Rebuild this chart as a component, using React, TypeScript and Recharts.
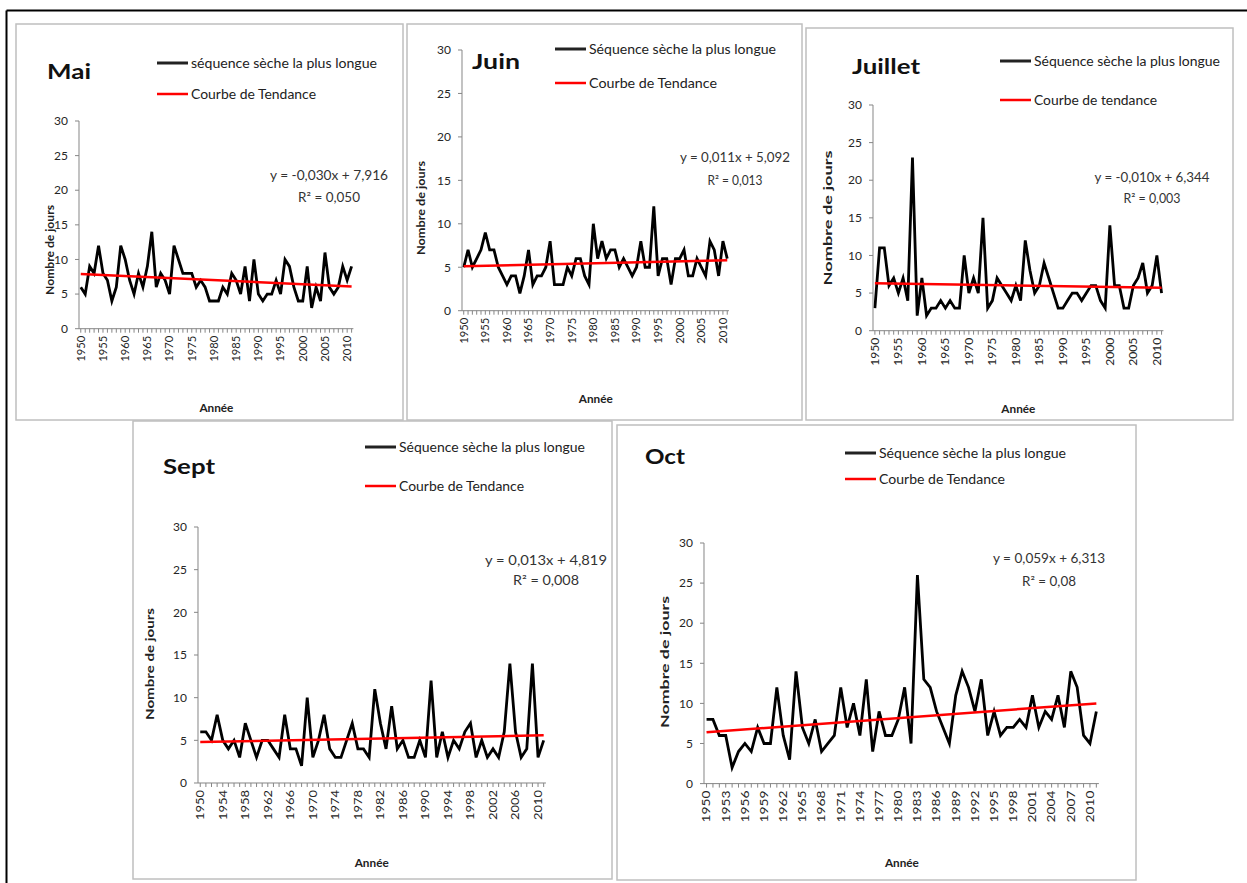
import React from 'react';
import { LineChart, Line, XAxis, YAxis } from 'recharts';

// Longest dry sequence per month (days), 1950-2011
const years = Array.from({ length: 62 }, (_, i) => 1950 + i);

const maiValues = [6, 5, 9, 8, 12, 8, 7, 4, 6, 12, 10, 7, 5, 8, 6, 9, 14, 6, 8, 7, 5, 12, 10, 8, 8, 8, 6, 7, 6, 4, 4, 4, 6, 5, 8, 7, 5, 9, 4, 10, 5, 4, 5, 5, 7, 5, 10, 9, 6, 4, 4, 9, 3, 6, 4, 11, 6, 5, 6, 9, 7, 9];
const juinValues = [5, 7, 5, 6, 7, 9, 7, 7, 5, 4, 3, 4, 4, 2, 4, 7, 3, 4, 4, 5, 8, 3, 3, 3, 5, 4, 6, 6, 4, 3, 10, 6, 8, 6, 7, 7, 5, 6, 5, 4, 5, 8, 5, 5, 12, 4, 6, 6, 3, 6, 6, 7, 4, 4, 6, 5, 4, 8, 7, 4, 8, 6];
const juilletValues = [3, 11, 11, 6, 7, 5, 7, 4, 23, 2, 7, 2, 3, 3, 4, 3, 4, 3, 3, 10, 5, 7, 5, 15, 3, 4, 7, 6, 5, 4, 6, 4, 12, 8, 5, 6, 9, 7, 5, 3, 3, 4, 5, 5, 4, 5, 6, 6, 4, 3, 14, 6, 6, 3, 3, 6, 7, 9, 5, 6, 10, 5];
const septValues = [6, 6, 5, 8, 5, 4, 5, 3, 7, 5, 3, 5, 5, 4, 3, 8, 4, 4, 2, 10, 3, 5, 8, 4, 3, 3, 5, 7, 4, 4, 3, 11, 7, 4, 9, 4, 5, 3, 3, 5, 3, 12, 3, 6, 3, 5, 4, 6, 7, 3, 5, 3, 4, 3, 6, 14, 6, 3, 4, 14, 3, 5];
const octValues = [8, 8, 6, 6, 2, 4, 5, 4, 7, 5, 5, 12, 6, 3, 14, 7, 5, 8, 4, 5, 6, 12, 7, 10, 6, 13, 4, 9, 6, 6, 8, 12, 5, 26, 13, 12, 9, 7, 5, 11, 14, 12, 9, 13, 6, 9, 6, 7, 7, 8, 7, 11, 7, 9, 8, 11, 7, 14, 12, 6, 5, 9];

// trend line ends (1950, 2011) read from the linear fits
const maiTrend = [7.9, 6.1];
const juinTrend = [5.1, 5.8];
const juilletTrend = [6.3, 5.7];
const septTrend = [4.8, 5.6];
const octTrend = [6.4, 10.0];

const ticks5 = [1950, 1955, 1960, 1965, 1970, 1975, 1980, 1985, 1990, 1995, 2000, 2005, 2010];
const ticks4 = [1950, 1954, 1958, 1962, 1966, 1970, 1974, 1978, 1982, 1986, 1990, 1994, 1998, 2002, 2006, 2010];
const ticks3 = [1950, 1953, 1956, 1959, 1962, 1965, 1968, 1971, 1974, 1977, 1980, 1983, 1986, 1989, 1992, 1995, 1998, 2001, 2004, 2007, 2010];
const yTicks = [0, 5, 10, 15, 20, 25, 30];

const FONT = 'Lato, "Liberation Sans", sans-serif';
const AXIS = '#868686';

const buildRows = (values: number[], trend: number[]) =>
  years.map((year, i) => ({
    year,
    value: values[i],
    trend: i === 0 ? trend[0] : i === years.length - 1 ? trend[1] : null,
  }));

const panels = [
  {
    key: 'mai', values: maiValues, trend: maiTrend, labels: ticks5,
    x0: 81, step: 4.44, y0: 328.7, y30: 121, tickLen: 26,
    box: [16, 24, 403, 420],
    title: { text: 'Mai', x: 47, y: 70, w: 44 },
    legend: { x: 157, y1: 63, y2: 94, w1: 186, w2: 125, t1: 'séquence sèche la plus longue', t2: 'Courbe de Tendance' },
    eq: { cx: 329, y1: 175, y2: 197, w1: 118, w2: 62, t1: 'y = -0,030x + 7,916', t2: 'R² = 0,050' },
    yTitle: { x: 49, cy: 250, len: 90 }, xTitle: { y: 407 },
  },
  {
    key: 'juin', values: juinValues, trend: juinTrend, labels: ticks5,
    x0: 464, step: 4.32, y0: 310.7, y30: 50, tickLen: 26,
    box: [407, 24, 802, 420],
    title: { text: 'Juin', x: 472, y: 60, w: 48 },
    legend: { x: 555, y1: 49, y2: 83, w1: 187, w2: 128, t1: 'Séquence sèche la plus longue', t2: 'Courbe de Tendance' },
    eq: { cx: 735, y1: 157, y2: 180, w1: 110, w2: 55, t1: 'y = 0,011x + 5,092', t2: 'R² = 0,013' },
    yTitle: { x: 420, cy: 208, len: 94 }, xTitle: { y: 398 },
  },
  {
    key: 'juillet', values: juilletValues, trend: juilletTrend, labels: ticks5,
    x0: 875, step: 4.7, y0: 330.7, y30: 105, tickLen: 28,
    box: [806, 28, 1233, 420],
    title: { text: 'Juillet', x: 852, y: 65, w: 68 },
    legend: { x: 1000, y1: 61, y2: 100, w1: 186, w2: 123, t1: 'Séquence sèche la plus longue', t2: 'Courbe de tendance' },
    eq: { cx: 1152, y1: 177, y2: 198, w1: 115, w2: 57, t1: 'y = -0,010x + 6,344', t2: 'R² = 0,003' },
    yTitle: { x: 827, cy: 218, len: 135 }, xTitle: { y: 408 },
  },
  {
    key: 'sept', values: septValues, trend: septTrend, labels: ticks4,
    x0: 200, step: 5.63, y0: 782.7, y30: 526.7, tickLen: 30,
    box: [133, 421, 612, 879],
    title: { text: 'Sept', x: 163, y: 465, w: 52 },
    legend: { x: 365, y1: 447, y2: 486, w1: 186, w2: 125, t1: 'Séquence sèche la plus longue', t2: 'Courbe de Tendance' },
    eq: { cx: 546, y1: 560, y2: 580, w1: 122, w2: 66, t1: 'y = 0,013x + 4,819', t2: 'R² = 0,008' },
    yTitle: { x: 149, cy: 664, len: 112 }, xTitle: { y: 862 },
  },
  {
    key: 'oct', values: octValues, trend: octTrend, labels: ticks3,
    x0: 707, step: 6.39, y0: 783.3, y30: 542.7, tickLen: 32,
    box: [617, 425, 1136, 880],
    title: { text: 'Oct', x: 645, y: 455, w: 40 },
    legend: { x: 845, y1: 453, y2: 479, w1: 187, w2: 126, t1: 'Séquence sèche la plus longue', t2: 'Courbe de Tendance' },
    eq: { cx: 1049, y1: 558, y2: 581, w1: 112, w2: 54, t1: 'y = 0,059x + 6,313', t2: 'R² = 0,08' },
    yTitle: { x: 664, cy: 662, len: 132 }, xTitle: { y: 862 },
  },
];

function YearTick(props: any) {
  const { x, y, payload, labels, len } = props;
  if (!labels.includes(payload.value)) return <g />;
  return (
    <text
      x={x}
      y={y}
      transform={`rotate(-90 ${x} ${y})`}
      textAnchor="end"
      dy="0.35em"
      fontSize={11}
      fill="#262626"
      fontFamily={FONT}
      textLength={len}
      lengthAdjust="spacingAndGlyphs"
    >
      {payload.value}
    </text>
  );
}

function Frame() {
  return (
    <svg width={1247} height={883} style={{ position: 'absolute', left: 0, top: 0 }}>
      <rect x={0} y={0} width={1247} height={883} fill="#fff" />
      <line x1={6.5} y1={10.5} x2={1247} y2={10.5} stroke="#000" strokeWidth={2} />
      <line x1={6.5} y1={10.5} x2={6.5} y2={883} stroke="#000" strokeWidth={2} />
      {panels.map((p) => {
        const [l, t, r, b] = p.box;
        const plotL = p.x0 - 0.4 * p.step;
        const plotR = p.x0 + 61.4 * p.step;
        const { x: tx, cy, len } = p.yTitle;
        return (
          <g key={p.key} fontFamily={FONT} fill="#222">
            <rect x={l} y={t} width={r - l} height={b - t} fill="#fff" stroke="#bfbfbf" strokeWidth={1.5} />
            <text x={p.title.x} y={p.title.y} dominantBaseline="central" fontSize={21} fontWeight={700} fill="#111"
              textLength={p.title.w} lengthAdjust="spacingAndGlyphs">{p.title.text}</text>
            <line x1={p.legend.x} x2={p.legend.x + 31} y1={p.legend.y1} y2={p.legend.y1} stroke="#222" strokeWidth={3} />
            <text x={p.legend.x + 34} y={p.legend.y1} dominantBaseline="central" fontSize={12.5}
              textLength={p.legend.w1} lengthAdjust="spacingAndGlyphs">{p.legend.t1}</text>
            <line x1={p.legend.x} x2={p.legend.x + 31} y1={p.legend.y2} y2={p.legend.y2} stroke="#ff0000" strokeWidth={2.5} />
            <text x={p.legend.x + 34} y={p.legend.y2} dominantBaseline="central" fontSize={12.5}
              textLength={p.legend.w2} lengthAdjust="spacingAndGlyphs">{p.legend.t2}</text>
            <text x={p.eq.cx} y={p.eq.y1} textAnchor="middle" dominantBaseline="central" fontSize={12.5} fill="#333"
              textLength={p.eq.w1} lengthAdjust="spacingAndGlyphs">{p.eq.t1}</text>
            <text x={p.eq.cx} y={p.eq.y2} textAnchor="middle" dominantBaseline="central" fontSize={12.5} fill="#333"
              textLength={p.eq.w2} lengthAdjust="spacingAndGlyphs">{p.eq.t2}</text>
            <text x={tx} y={cy} transform={`rotate(-90 ${tx} ${cy})`} textAnchor="middle"
              dominantBaseline="central" fontSize={11} fontWeight={700}
              textLength={len} lengthAdjust="spacingAndGlyphs">Nombre de jours</text>
            <text x={(plotL + plotR) / 2} y={p.xTitle.y} textAnchor="middle" dominantBaseline="central" fontSize={12}
              fontWeight={700} textLength={34} lengthAdjust="spacingAndGlyphs">Année</text>
          </g>
        );
      })}
    </svg>
  );
}

function Panel({ p }: { p: (typeof panels)[number] }) {
  const yAxisW = 40;
  const xAxisH = 50;
  const mTop = 10;
  const mRight = 10;
  const plotL = p.x0 - 0.4 * p.step;
  const plotR = p.x0 + 61.4 * p.step;
  const width = plotR - plotL + yAxisW + mRight;
  const height = p.y0 - p.y30 + mTop + xAxisH;
  const rows = buildRows(p.values, p.trend);
  return (
    <div style={{ position: 'absolute', left: plotL - yAxisW, top: p.y30 - mTop }}>
      <LineChart width={width} height={height} data={rows} margin={{ top: mTop, right: mRight, left: 0, bottom: 0 }}>
        <XAxis
          dataKey="year"
          type="number"
          domain={[1949.6, 2011.4]}
          ticks={years}
          interval={0}
          height={xAxisH}
          tickSize={4}
          tickMargin={3}
          axisLine={{ stroke: AXIS }}
          tickLine={{ stroke: AXIS }}
          tick={<YearTick labels={p.labels} len={p.tickLen} />}
        />
        <YAxis
          domain={[0, 30]}
          ticks={yTicks}
          interval={0}
          width={yAxisW}
          tickSize={4}
          tickMargin={7}
          axisLine={{ stroke: AXIS }}
          tickLine={{ stroke: AXIS }}
          tick={{ fontSize: 12, fill: '#262626', fontFamily: FONT }}
        />
        <Line dataKey="value" stroke="#000" strokeWidth={2.8} dot={false} isAnimationActive={false} />
        <Line dataKey="trend" stroke="#ff0000" strokeWidth={2.5} dot={false} connectNulls isAnimationActive={false} />
      </LineChart>
    </div>
  );
}

export default function App() {
  return (
    <div style={{ position: 'absolute', left: 0, top: 0, width: 1247, height: 883, overflow: 'hidden', background: '#fff' }}>
      <Frame />
      {panels.map((p) => (
        <Panel key={p.key} p={p} />
      ))}
    </div>
  );
}
